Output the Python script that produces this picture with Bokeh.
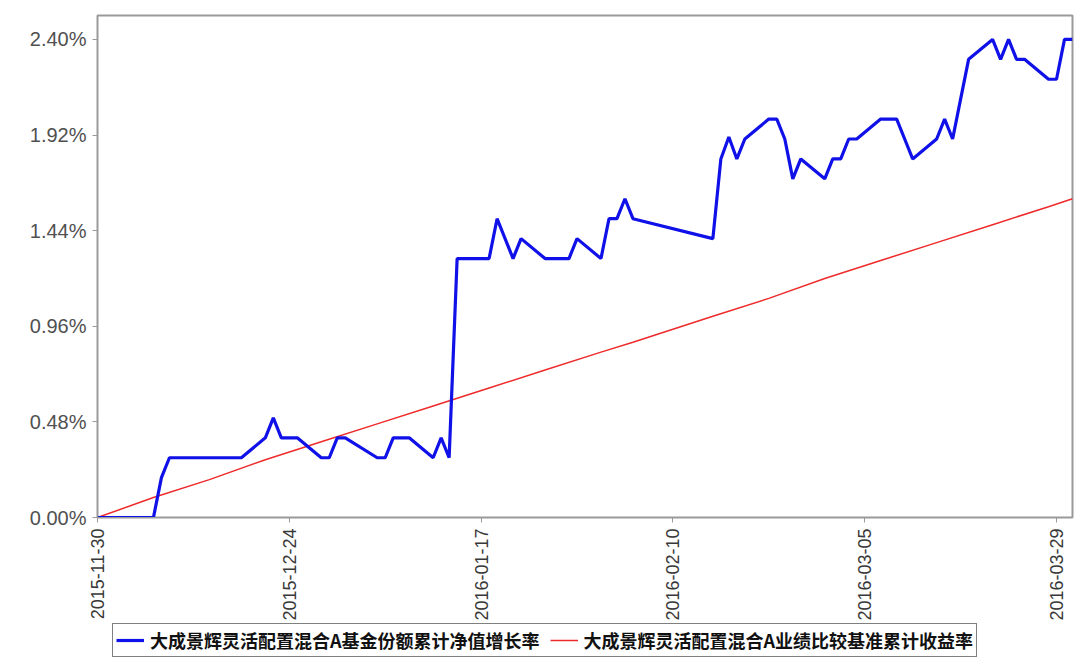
import pandas as pd
from math import pi
from bokeh.plotting import figure
from bokeh.layouts import column
from bokeh.models import (Range1d, FixedTicker, PrintfTickFormatter, DatetimeTickFormatter,
                          Legend, LegendItem, ColumnDataSource)
from bokeh.embed import file_html
from bokeh.resources import INLINE

# ---------------- data ----------------
fund_dates = [
    "2015-11-30", "2015-12-01", "2015-12-02", "2015-12-03", "2015-12-04",
    "2015-12-07", "2015-12-08", "2015-12-09", "2015-12-10", "2015-12-11",
    "2015-12-14", "2015-12-15", "2015-12-16", "2015-12-17", "2015-12-18",
    "2015-12-21", "2015-12-22", "2015-12-23", "2015-12-24", "2015-12-25",
    "2015-12-28", "2015-12-29", "2015-12-30", "2015-12-31",
    "2016-01-04", "2016-01-05", "2016-01-06", "2016-01-07", "2016-01-08",
    "2016-01-11", "2016-01-12", "2016-01-13", "2016-01-14", "2016-01-15",
    "2016-01-18", "2016-01-19", "2016-01-20", "2016-01-21", "2016-01-22",
    "2016-01-25", "2016-01-26", "2016-01-27", "2016-01-28", "2016-01-29",
    "2016-02-01", "2016-02-02", "2016-02-03", "2016-02-04", "2016-02-05",
    "2016-02-15", "2016-02-16", "2016-02-17", "2016-02-18", "2016-02-19",
    "2016-02-22", "2016-02-23", "2016-02-24", "2016-02-25", "2016-02-26",
    "2016-02-29", "2016-03-01", "2016-03-02", "2016-03-03", "2016-03-04",
    "2016-03-07", "2016-03-08", "2016-03-09", "2016-03-10", "2016-03-11",
    "2016-03-14", "2016-03-15", "2016-03-16", "2016-03-17", "2016-03-18",
    "2016-03-21", "2016-03-22", "2016-03-23", "2016-03-24", "2016-03-25",
    "2016-03-28", "2016-03-29", "2016-03-30", "2016-03-31",
]
fund_values = [
    0.00, 0.00, 0.00, 0.00, 0.00,
    0.00, 0.20, 0.30, 0.30, 0.30,
    0.30, 0.30, 0.30, 0.30, 0.30,
    0.40, 0.50, 0.40, 0.40, 0.40,
    0.30, 0.30, 0.40, 0.40,
    0.30, 0.30, 0.40, 0.40, 0.40,
    0.30, 0.40, 0.30, 1.30, 1.30,
    1.30, 1.50, 1.40, 1.30, 1.40,
    1.30, 1.30, 1.30, 1.30, 1.40,
    1.30, 1.50, 1.50, 1.60, 1.50,
    1.40, 1.80, 1.91, 1.80, 1.90,
    2.00, 2.00, 1.90, 1.70, 1.80,
    1.70, 1.80, 1.80, 1.90, 1.90,
    2.00, 2.00, 2.00, 1.90, 1.80,
    1.90, 2.00, 1.90, 2.10, 2.30,
    2.40, 2.30, 2.40, 2.30, 2.30,
    2.20, 2.20, 2.40, 2.40,
]

bench_dates = [
    "2015-11-30", "2015-12-07", "2015-12-14", "2015-12-21", "2015-12-28",
    "2016-01-04", "2016-01-11", "2016-01-18", "2016-01-25", "2016-02-01",
    "2016-02-05", "2016-02-15", "2016-02-22", "2016-02-29", "2016-03-07",
    "2016-03-14", "2016-03-21", "2016-03-28", "2016-03-31",
]
bench_values = [
    0.00, 0.10, 0.19, 0.29, 0.38,
    0.47, 0.56, 0.65, 0.74, 0.83,
    0.88, 1.01, 1.10, 1.20, 1.29,
    1.38, 1.47, 1.56, 1.60,
]

x_tick_labels = ["2015-11-30", "2015-12-24", "2016-01-17", "2016-02-10", "2016-03-05", "2016-03-29"]
y_ticks = [0.00, 0.48, 0.96, 1.44, 1.92, 2.40]

fund_name = "大成景辉灵活配置混合A基金份额累计净值增长率"
bench_name = "大成景辉灵活配置混合A业绩比较基准累计收益率"

FUND_COLOR = "#1010e8"
BENCH_COLOR = "#ee2a2a"

# ---------------- main chart ----------------
fund_src = ColumnDataSource(dict(x=pd.to_datetime(fund_dates), y=fund_values))
bench_src = ColumnDataSource(dict(x=pd.to_datetime(bench_dates), y=bench_values))

p = figure(frame_width=975, frame_height=502, x_axis_type="datetime",
           output_backend="svg", toolbar_location=None,
           min_border_left=97, min_border_top=15, min_border_right=3, min_border_bottom=0,
           x_range=Range1d(pd.Timestamp("2015-11-30"), pd.Timestamp("2016-03-31")),
           y_range=Range1d(0, 2.52))

p.xgrid.visible = False
p.ygrid.visible = False
p.outline_line_color = "#9a9a9a"
p.outline_line_width = 2
p.background_fill_color = "white"
p.border_fill_color = "white"

p.line("x", "y", source=bench_src, line_color=BENCH_COLOR, line_width=1.5)
p.line("x", "y", source=fund_src, line_color=FUND_COLOR, line_width=3.2)

tick_ms = [pd.Timestamp(d).value // 10**6 for d in x_tick_labels]
p.xaxis.ticker = FixedTicker(ticks=tick_ms)
fmt = "%Y-%m-%d"
p.xaxis.formatter = DatetimeTickFormatter(milliseconds=fmt, seconds=fmt, minsec=fmt, minutes=fmt,
                                          hourmin=fmt, hours=fmt, days=fmt, months=fmt, years=fmt)
p.xaxis.major_label_orientation = pi / 2
p.yaxis.ticker = FixedTicker(ticks=y_ticks)
p.yaxis.formatter = PrintfTickFormatter(format="%.2f%%")

for ax in (p.xaxis, p.yaxis):
    ax.axis_line_color = "#9a9a9a"
    ax.axis_line_width = 1
    ax.major_tick_line_color = "#9a9a9a"
    ax.major_tick_out = 5
    ax.major_tick_in = 0
    ax.minor_tick_line_color = None
    ax.major_label_text_font = "Liberation Sans"
    ax.major_label_text_color = "#505050"
    ax.major_label_standoff = 6
p.yaxis.major_label_text_font_size = "20px"
p.xaxis.major_label_text_font_size = "18px"
p.xaxis.major_label_standoff = 6
p.xaxis.major_label_text_color = "#383838"

# ---------------- legend strip (legend proxies sit outside the visible range) ----------------
leg = figure(width=1075, height=35, output_backend="svg", toolbar_location=None,
             x_axis_location=None, y_axis_location=None,
             min_border_left=0, min_border_right=0, min_border_top=0, min_border_bottom=0,
             x_range=Range1d(0, 1), y_range=Range1d(0, 1))
leg.xgrid.visible = False
leg.ygrid.visible = False
leg.outline_line_color = None
leg.border_fill_color = "white"
proxy = ColumnDataSource(dict(x=[-5, -4], y=[-5, -4]))
lr_fund = leg.line("x", "y", source=proxy, line_color=FUND_COLOR, line_width=3.2)
lr_bench = leg.line("x", "y", source=proxy, line_color=BENCH_COLOR, line_width=1.5)

legend = Legend(items=[LegendItem(label=fund_name, renderers=[lr_fund]),
                       LegendItem(label=bench_name, renderers=[lr_bench])],
                orientation="horizontal", location=(15, 1))
legend.label_text_font = "Noto Sans CJK SC"
legend.label_text_font_style = "bold"
legend.label_text_font_size = "18px"
legend.label_text_color = "#111111"
legend.border_line_color = "black"
legend.border_line_width = 1.5
legend.background_fill_color = "white"
legend.background_fill_alpha = 1.0
legend.padding = 3
legend.margin = 0
legend.spacing = 10
legend.glyph_width = 28
legend.glyph_height = 16
legend.label_standoff = 6
legend.label_height = 16
leg.add_layout(legend, "center")

layout = column(p, leg, spacing=0)
open("out.html", "w").write(file_html(layout, INLINE))
